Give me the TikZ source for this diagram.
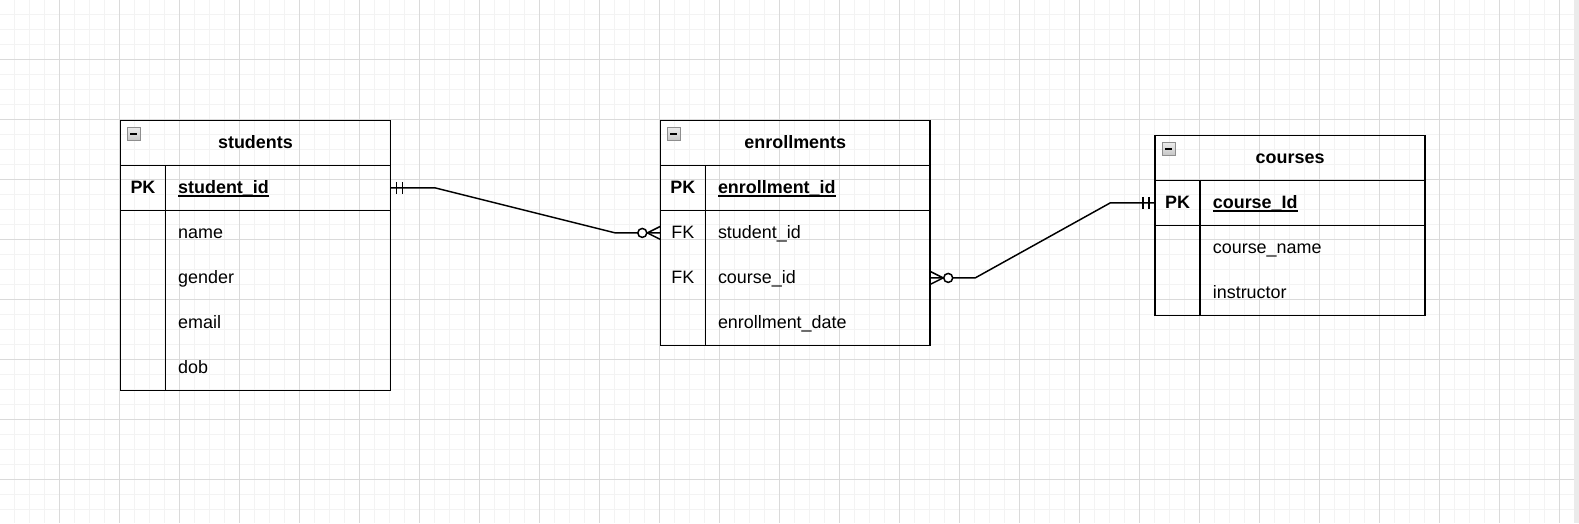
\documentclass[tikz,border=0pt]{standalone}
\usepackage{fontspec}
\setmainfont{Liberation Sans}
\usetikzlibrary{positioning}
\definecolor{gridminor}{HTML}{F3F3F3}
\definecolor{gridmajor}{HTML}{DADADA}
\definecolor{iconedge}{HTML}{8E8E8E}
\definecolor{scrollgray}{HTML}{EBEBEB}
\newcommand{\erfont}{\fontsize{18}{21}\selectfont}
\newcommand{\keyname}[1]{\setbox0\hbox{#1}\rlap{\vrule width\wd0 height -2bp depth 3.4bp}\box0}

\begin{document}
\begin{tikzpicture}[x=1bp, y=-1bp, line width=1.5bp,
        hdr/.style = {shape=rectangle, draw, minimum width=270bp,
          minimum height=45bp, inner sep=0, outer sep=0, text height=12bp,
          text depth=0bp, font=\erfont\bfseries},
        pkrow/.style = {shape=rectangle, draw, minimum width=270bp,
          minimum height=45bp, inner sep=0, outer sep=0},
        fieldrow/.style = {shape=rectangle, minimum width=270bp,
          minimum height=45bp, inner sep=0, outer sep=0},
        keytxt/.style = {anchor=base, inner sep=0, font=\erfont},
        fieldtxt/.style = {anchor=base west, inner sep=0, font=\erfont},
        icon/.style = {shape=rectangle, draw=iconedge, line width=1bp,
          minimum size=13bp, inner sep=0, top color=gray!15, bottom color=gray!45,
          path picture={\draw[line width=1.4bp, black]
            ([xshift=-3.5bp]path picture bounding box.center) --
            ([xshift=3.5bp]path picture bounding box.center);}},
        rel/.style = {line width=1.5bp, black},
        mandone/.pic = {\draw[rel] (6,-6) -- (6,6) (12,-6) -- (12,6);},
        zeromany/.pic = {\draw[rel] (0,-6.5) -- (13,0) -- (0,6.5);
          \draw[rel, fill=white] (18,0) circle [radius=4.5];}
        ]
        \fill[white] (0,0) rectangle (1579,523);
        \foreach \k in {0,...,103}
          \draw[gridminor, line width=1bp] ({14.5+15*\k},0) -- ({14.5+15*\k},523);
        \foreach \k in {0,...,33}
          \draw[gridminor, line width=1bp] (0,{14.5+15*\k}) -- (1574,{14.5+15*\k});
        \foreach \k in {0,...,25}
          \draw[gridmajor, line width=1bp] ({59.5+60*\k},0) -- ({59.5+60*\k},523);
        \foreach \k in {0,...,7}
          \draw[gridmajor, line width=1bp] (0,{59.5+60*\k}) -- (1574,{59.5+60*\k});
        \fill[scrollgray] (1574,0) rectangle (1579,523);
        \useasboundingbox (0,0) rectangle (1579,523);

        \node[hdr] (stu) at (255,142.5) {students};
        \node[icon] (stu-ic) at ([xshift=13.5bp,yshift=-13.5bp]stu.north west) {};
        \node[pkrow, below=0bp of stu] (stu-pk) {};
        \node[keytxt] (stu-pkk) at ([xshift=22.5bp,yshift=-5.5bp]stu-pk.west) {\bfseries PK};
        \node[fieldtxt] (stu-pkt) at ([xshift=57bp,yshift=-5.5bp]stu-pk.west) {\bfseries\keyname{student\_id}};
        \foreach \f [count=\i] in {name,gender,email,dob}{
          \node[fieldrow] (stu-\i) at (255,{187.5+45*\i}) {};
          \node[fieldtxt] (stu-t\i) at ([xshift=57bp,yshift=-5.5bp]stu-\i.west) {\f};
        }
        \draw (stu-pk.south west) rectangle (stu-4.south east);
        \draw ([xshift=45bp]stu-pk.north west) -- ([xshift=45bp]stu-4.south west);

        \node[hdr] (enr) at (795,142.5) {enrollments};
        \node[icon] (enr-ic) at ([xshift=13.5bp,yshift=-13.5bp]enr.north west) {};
        \node[pkrow, below=0bp of enr] (enr-pk) {};
        \node[keytxt] (enr-pkk) at ([xshift=22.5bp,yshift=-5.5bp]enr-pk.west) {\bfseries PK};
        \node[fieldtxt] (enr-pkt) at ([xshift=57bp,yshift=-5.5bp]enr-pk.west) {\bfseries\keyname{enrollment\_id}};
        \foreach \f/\key [count=\i] in {student\_id/FK,course\_id/FK,enrollment\_date/{}}{
          \node[fieldrow] (enr-\i) at (795,{187.5+45*\i}) {};
          \node[keytxt] (enr-k\i) at ([xshift=22.5bp,yshift=-5.5bp]enr-\i.west) {\key};
          \node[fieldtxt] (enr-t\i) at ([xshift=57bp,yshift=-5.5bp]enr-\i.west) {\f};
        }
        \draw (enr-pk.south west) rectangle (enr-3.south east);
        \draw ([xshift=45bp]enr-pk.north west) -- ([xshift=45bp]enr-3.south west);

        \node[hdr] (crs) at (1290,157.5) {courses};
        \node[icon] (crs-ic) at ([xshift=13.5bp,yshift=-13.5bp]crs.north west) {};
        \node[pkrow, below=0bp of crs] (crs-pk) {};
        \node[keytxt] (crs-pkk) at ([xshift=22.5bp,yshift=-5.5bp]crs-pk.west) {\bfseries PK};
        \node[fieldtxt] (crs-pkt) at ([xshift=57bp,yshift=-5.5bp]crs-pk.west) {\bfseries\keyname{course\_Id}};
        \foreach \f [count=\i] in {course\_name,instructor}{
          \node[fieldrow] (crs-\i) at (1290,{202.5+45*\i}) {};
          \node[fieldtxt] (crs-t\i) at ([xshift=57bp,yshift=-5.5bp]crs-\i.west) {\f};
        }
        \draw (crs-pk.south west) rectangle (crs-2.south east);
        \draw ([xshift=45bp]crs-pk.north west) -- ([xshift=45bp]crs-2.south west);

        \draw[rel] (stu-pk.east) -- ++(45,0) -- ([xshift=-45bp]enr-1.west) -- (enr-1.west);
        \draw[rel] (enr-2.east) -- ++(45,0) -- ([xshift=-45bp]crs-pk.west) -- (crs-pk.west);
        \pic at (stu-pk.east) {mandone};
        \pic[xscale=-1] at (crs-pk.west) {mandone};
        \pic[xscale=-1] at (enr-1.west) {zeromany};
        \pic at (enr-2.east) {zeromany};
      \end{tikzpicture}
\end{document}
